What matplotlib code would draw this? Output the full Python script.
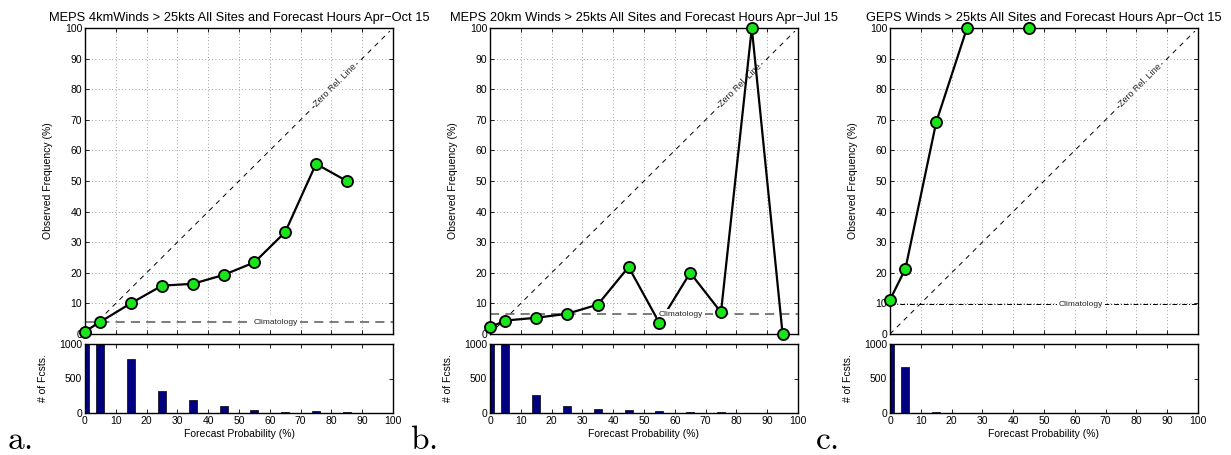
import numpy as np
import matplotlib
matplotlib.use("Agg")
import matplotlib.pyplot as plt

plt.rcParams['font.family'] = ['Liberation Sans', 'DejaVu Sans']
plt.rcParams['mathtext.fontset'] = 'cm'

# Forecast probability bins (%)
prob_bins = [0, 5, 15, 25, 35, 45, 55, 65, 75, 85, 95]

titles = [
    "MEPS 4kmWinds > 25kts All Sites and Forecast Hours Apr\u2212Oct 15",
    "MEPS 20km Winds > 25kts All Sites and Forecast Hours Apr\u2212Jul 15",
    "GEPS Winds > 25kts All Sites and Forecast Hours Apr\u2212Oct 15",
]
panel_letters = ["a.", "b.", "c."]

# Observed frequency (%) per bin; NaN = no forecasts in bin
obs_meps4 = [0.8, 4.0, 10.1, 15.8, 16.4, 19.3, 23.4, 33.3, 55.6, 50.0, np.nan]
obs_meps20 = [2.2, 4.4, 5.3, 6.6, 9.6, 21.9, 3.6, 20.0, 7.1, 100.0, 0.0]
obs_geps = [11.2, 21.3, 69.2, 100.0, np.nan, 100.0, np.nan, np.nan, np.nan, np.nan, np.nan]

# Sample climatology (%)
clim = [3.9, 6.5, 9.8]

# Number of forecasts per bin
n_meps4 = [5000, 1800, 783, 324, 188, 101, 40, 18, 27, 8, 0]
n_meps20 = [5000, 1600, 261, 106, 58, 39, 34, 8, 19, 3, 3]
n_geps = [5000, 667, 19, 1, 0, 2, 0, 0, 0, 0, 0]

obs_all = [obs_meps4, obs_meps20, obs_geps]
n_all = [n_meps4, n_meps20, n_geps]

W, H = 1231, 455
fig = plt.figure(figsize=(W / 100, H / 100), dpi=100)

lefts = [85, 490, 890]
ax_w = 308
main_top, main_bot = 28, 334
hist_top, hist_bot = 344, 413

green = '#19e619'
ticks10 = np.arange(0, 101, 10)

for i in range(3):
    l = lefts[i] / W
    w = ax_w / W
    ax = fig.add_axes([l, 1 - main_bot / H, w, (main_bot - main_top) / H])
    axh = fig.add_axes([l, 1 - hist_bot / H, w, (hist_bot - hist_top) / H])

    # ---- reliability diagram ----
    ax.set_xlim(0, 100)
    ax.set_ylim(0, 100)
    ax.set_xticks(ticks10)
    ax.set_yticks(ticks10)
    ax.set_xticklabels([])
    ax.grid(True, linestyle=(0, (1, 3)), color='0.5', linewidth=0.6)
    ax.set_axisbelow(True)

    # diagonal reference line
    ax.plot([0, 99], [0, 99], color='k', linestyle=(0, (5, 5)), linewidth=0.7, zorder=2)
    ax.text(81.3, 81.3, "Zero Rel. Line", rotation=45, rotation_mode='anchor',
            ha='center', va='center', fontsize=6.5, color='0.15',
            bbox=dict(facecolor='white', edgecolor='none', pad=1.0), zorder=3)

    # climatology line
    if i < 2:
        ax.plot([0, 100], [clim[i], clim[i]], color='0.35', linestyle=(0, (6, 4)),
                linewidth=1.1, zorder=2)
    else:
        ax.plot([0, 100], [clim[i], clim[i]], color='k', linestyle=(0, (5, 2, 1, 2)),
                linewidth=0.7, zorder=2)

    obs = obs_all[i]
    ax.plot(prob_bins, obs, color='k', linewidth=1.6, zorder=4, clip_on=False)
    ax.text(62, clim[i], "Climatology", ha='center', va='center', fontsize=6,
            color='0.15', bbox=dict(facecolor='white', edgecolor='none', pad=1.5),
            zorder=5)
    ax.plot(prob_bins, obs, linestyle='none', marker='o', markersize=8,
            markerfacecolor=green, markeredgecolor='k', markeredgewidth=1.3,
            zorder=6, clip_on=False)

    ax.tick_params(direction='in', length=3, width=0.6, top=True, right=True,
                   labelsize=7.5, pad=2)
    for s in ax.spines.values():
        s.set_linewidth(1.0)
    ax.set_ylabel("Observed Frequency (%)", fontsize=7.5)
    ax.yaxis.set_label_coords(-0.104, 0.5)
    ax.set_title(titles[i], fontsize=9.3, pad=5)

    # ---- forecast counts histogram ----
    axh.bar(prob_bins, n_all[i], width=2.6, color='#000080', edgecolor='k',
            linewidth=0.5, zorder=2)
    axh.set_xlim(0, 100)
    axh.set_ylim(0, 1000)
    axh.set_xticks(ticks10)
    axh.set_yticks([0, 500, 1000])
    axh.tick_params(direction='in', length=3, width=0.6, top=True, right=True,
                    labelsize=7.5, pad=2)
    for s in axh.spines.values():
        s.set_linewidth(1.0)
    axh.set_ylabel("# of Fcsts.", fontsize=7.5)
    axh.yaxis.set_label_coords(-0.12, 0.5)
    axh.set_xlabel("Forecast Probability (%)", fontsize=7.5, labelpad=2)

    # panel letter
    fig.text([7, 410, 815][i] / W, 1 - 449 / H, r"$\mathrm{" + panel_letters[i] + "}$",
             fontsize=24, ha='left', va='baseline')

fig.savefig("out.png", dpi=100)
